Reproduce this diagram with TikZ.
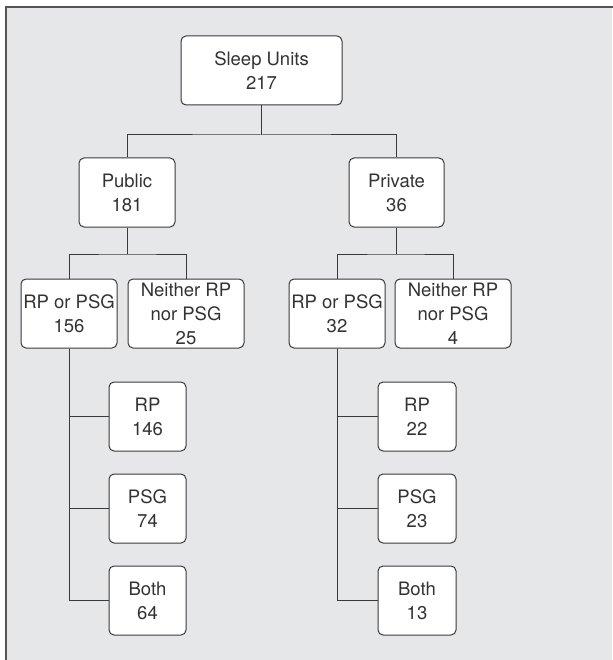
\documentclass[tikz,border=0pt]{standalone}
\usepackage{fontspec}
\setmainfont{TeX Gyre Heros}
\usetikzlibrary{calc}
\definecolor{bggray}{HTML}{E6E7E8}
\definecolor{linegray}{HTML}{3A3A3A}
\definecolor{framegray}{HTML}{555555}
\begin{document}
\begin{tikzpicture}[x=1pt,y=-1pt,
  box/.style={draw=linegray,line width=1pt,fill=white,rounded corners=5pt,
    align=center,inner sep=0pt,minimum height=69pt,text=black!80,
    font=\fontsize{18.5}{24}\selectfont},
  conn/.style={draw=linegray,line width=1pt}]
\useasboundingbox (0,0) rectangle (612,660);
\fill[bggray] (6,7) rectangle (612,660);
\draw[framegray,line width=2pt] (6,661) -- (6,7) -- (613,7);
% nodes
\node[box,minimum width=161pt] (top) at (261.5,70.5) {Sleep Units\\217};
\node[box,minimum width=96pt] (pub) at (127,192.5) {Public\\181};
\node[box,minimum width=95pt] (priv) at (396.5,192.5) {Private\\36};
\node[box,minimum width=96pt] (rpl) at (69,313.5) {RP or PSG\\156};
\node[box,minimum width=116pt] (nl) at (186,313.5) {Neither RP\\nor PSG\\25};
\node[box,minimum width=96pt] (rpr) at (337,313.5) {RP or PSG\\32};
\node[box,minimum width=116pt] (nr) at (453,313.5) {Neither RP\\nor PSG\\4};
\node[box,minimum width=77pt] (rpa) at (147.5,416.5) {RP\\146};
\node[box,minimum width=77pt] (psga) at (147.5,508.5) {PSG\\74};
\node[box,minimum width=77pt] (botha) at (147.5,600.5) {Both\\64};
\node[box,minimum width=78pt] (rpb) at (417,416.5) {RP\\22};
\node[box,minimum width=78pt] (psgb) at (417,508.5) {PSG\\23};
\node[box,minimum width=78pt] (bothb) at (417,600.5) {Both\\13};
% buses
\coordinate (b1) at (261.5,135);
\coordinate (b2l) at (127,254);
\coordinate (b2r) at (396.5,254);
% connectors
\draw[conn] (top.south) -- (b1);
\draw[conn] (pub.north) |- (b1) -| (priv.north);
\draw[conn] (pub.south) -- (b2l);
\draw[conn] (rpl.north) |- (b2l) -| (nl.north);
\draw[conn] (priv.south) -- (b2r);
\draw[conn] (rpr.north) |- (b2r) -| (nr.north);
\draw[conn] (rpl.south) |- (rpa.west);
\draw[conn] (rpl.south) |- (psga.west);
\draw[conn] (rpl.south) |- (botha.west);
\draw[conn] (rpr.south) |- (rpb.west);
\draw[conn] (rpr.south) |- (psgb.west);
\draw[conn] (rpr.south) |- (bothb.west);
\end{tikzpicture}
\end{document}
